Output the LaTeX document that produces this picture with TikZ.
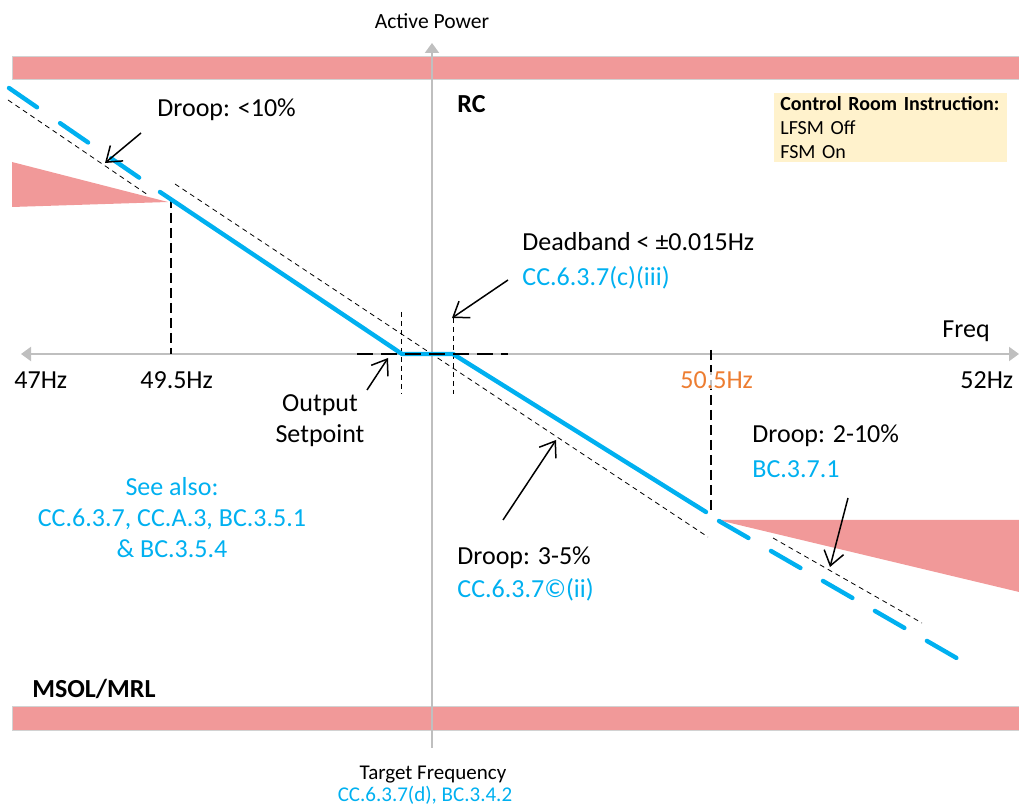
\documentclass[tikz,border=0pt]{standalone}
\usepackage{fontspec}
\setmainfont{Carlito}
\definecolor{droopblue}{RGB}{0,176,240}
\definecolor{limitpink}{RGB}{241,153,153}
\definecolor{axisgray}{RGB}{191,191,191}
\definecolor{hzorange}{RGB}{237,125,49}
\definecolor{notefill}{RGB}{255,242,204}
\usetikzlibrary{arrows.meta}

\begin{document}
\begin{tikzpicture}[x=0.5pt,y=-0.5pt,
  lbl/.style={font=\fontsize{13}{15.5}\selectfont, inner sep=0pt},
  ref/.style={lbl, text=droopblue},
  small/.style={font=\fontsize{10.8}{13}\selectfont, inner sep=0pt},
  callout/.style={-{Straight Barb[length=7pt,width=10pt]}, line width=0.75pt},
  axis/.style={axisgray, line width=1pt},
  guide/.style={dash pattern=on 2.5pt off 2pt, line width=0.4pt},
  marker/.style={dash pattern=on 5pt off 2.5pt, line width=0.7pt},
  droop/.style={droopblue, line width=2.2pt, line cap=round, line join=round},
  bar/.style={fill=limitpink, draw=axisgray!70, line width=0.5pt}]
  \useasboundingbox (0,0) rectangle (1019,807);

  % limit bands
  \draw [bar] (12,57) rectangle (1030,80);
  \draw [bar] (12,707) rectangle (1030,731);
  \fill [limitpink] (12,162) -- (12,207) -- (168,202) -- cycle;
  \fill [limitpink] (718,520) -- (1030,520) -- (1030,594.6) -- cycle;

  % axes
  \coordinate (yb) at (432,748);
  \coordinate (yt) at (432,43);
  \coordinate (xl) at (21,354);
  \coordinate (xr) at (1019,354);
  \draw [axis, -{Triangle[length=5pt,width=7pt]}] (yb) -- (yt);
  \draw [axis, {Triangle[length=5pt,width=7pt]}-{Triangle[length=5pt,width=7pt]}] (xl) -- (xr);

  % reference droop lines
  \coordinate (ga1) at (8,100);   \coordinate (ga2) at (148,195);
  \coordinate (gb1) at (175,184); \coordinate (gb2) at (708,537);
  \coordinate (gc1) at (773,538); \coordinate (gc2) at (922,623);
  \draw [guide] (ga1) -- (ga2);
  \draw [guide] (gb1) -- (gb2);
  \draw [guide] (gc1) -- (gc2);

  % frequency markers
  \coordinate (m1t) at (171,198); \coordinate (m1b) at (171,354);
  \coordinate (m2t) at (711,350); \coordinate (m2b) at (711,512);
  \coordinate (d1t) at (401,312); \coordinate (d1b) at (401,394);
  \coordinate (d2t) at (453,318); \coordinate (d2b) at (453,394);
  \draw [marker] (m1t) -- (m1b);
  \draw [marker] (m2t) -- (m2b);
  \draw [guide] (d1t) -- (d1b);
  \draw [guide] (d2t) -- (d2b);

  % droop characteristic
  \coordinate (p0) at (9,88);
  \coordinate (p1) at (160,192);
  \coordinate (p2) at (402,354);
  \coordinate (p3) at (453,354);
  \coordinate (p4) at (706,512);
  \coordinate (p5) at (719,521);
  \coordinate (p6) at (960,660);
  \draw [droop, dash pattern=on 17pt off 14pt] (p0) -- (p1);
  \draw [droop] (p1) -- (p2) -- (p3) -- (p4);
  \draw [droop, dash pattern=on 17pt off 13pt] (p5) -- (p6);

  % deadband on axis
  \coordinate (db1) at (357,354); \coordinate (db2) at (508,354);
  \draw [dash pattern=on 8pt off 4pt, line width=1pt] (db1) -- (db2);

  % labels
  \node (ap) [small, anchor=base] at (432,29) {Active Power};
  \node (rc) [lbl, anchor=base west, font=\fontsize{13}{15.5}\selectfont\bfseries] at (457,113) {RC};
  \node (msol) [lbl, anchor=base west, font=\fontsize{13}{15.5}\selectfont\bfseries] at (32,698) {MSOL/MRL};
  \node (cri) [fill=notefill, anchor=north west, text width=110.5pt, inner xsep=3pt, inner ysep=1.5pt,
    align=left, font=\fontsize{10}{12}\selectfont] at (774,93)
    {\textbf{Control Room Instruction:}\\LFSM Off\\FSM On};

  \node (d10) [lbl, anchor=base west] at (157,117) {Droop: <10\%};
  \node (dbt) [lbl, anchor=base west] at (522,251) {Deadband < ±0.015Hz};
  \node (dbr) [ref, anchor=base west] at (522,286) {CC.6.3.7(c)(iii)};
  \node (fq) [lbl, anchor=base west] at (942,338) {Freq};
  \node (f47) [lbl, anchor=base west] at (14,389) {47Hz};
  \node (f495) [lbl, anchor=base west] at (140,389) {49.5Hz};
  \node (f505) [lbl, anchor=base west, text=hzorange, fill=white, fill opacity=0.75, text opacity=1] at (680,389) {50.5Hz};
  \node (f52) [lbl, anchor=base west] at (960,389) {52Hz};
  \node (osp) [lbl, align=center] at (320,421) {Output\\Setpoint};
  \node (see) [ref, align=center] at (172,518) {See also:\\CC.6.3.7, CC.A.3, BC.3.5.1\\\& BC.3.5.4};
  \node (d210) [lbl, anchor=base west] at (752,443) {Droop: 2-10\%};
  \node (d210r) [ref, anchor=base west] at (752,478) {BC.3.7.1};
  \node (d35) [lbl, anchor=base west] at (457,565) {Droop: 3-5\%};
  \node (d35r) [ref, anchor=base west] at (457,598) {CC.6.3.7©(ii)};
  \node (tf) [small, anchor=base, font=\fontsize{10.5}{12}\selectfont] at (433,780) {Target Frequency};
  \node (tfr) [small, anchor=base, text=droopblue, font=\fontsize{10.5}{12}\selectfont] at (425,802) {CC.6.3.7(d), BC.3.4.2};

  % callouts
  \coordinate (c1a) at (141,133); \coordinate (c1b) at (105,163);
  \coordinate (c2a) at (508,280); \coordinate (c2b) at (452,318);
  \coordinate (c3a) at (367,390); \coordinate (c3b) at (388,358);
  \coordinate (c4a) at (503,520); \coordinate (c4b) at (556,440);
  \coordinate (c5a) at (848,498); \coordinate (c5b) at (830,567);
  \draw [callout] (c1a) -- (c1b);
  \draw [callout] (c2a) -- (c2b);
  \draw [callout] (c3a) -- (c3b);
  \draw [callout] (c4a) -- (c4b);
  \draw [callout] (c5a) -- (c5b);
\end{tikzpicture}
\end{document}
